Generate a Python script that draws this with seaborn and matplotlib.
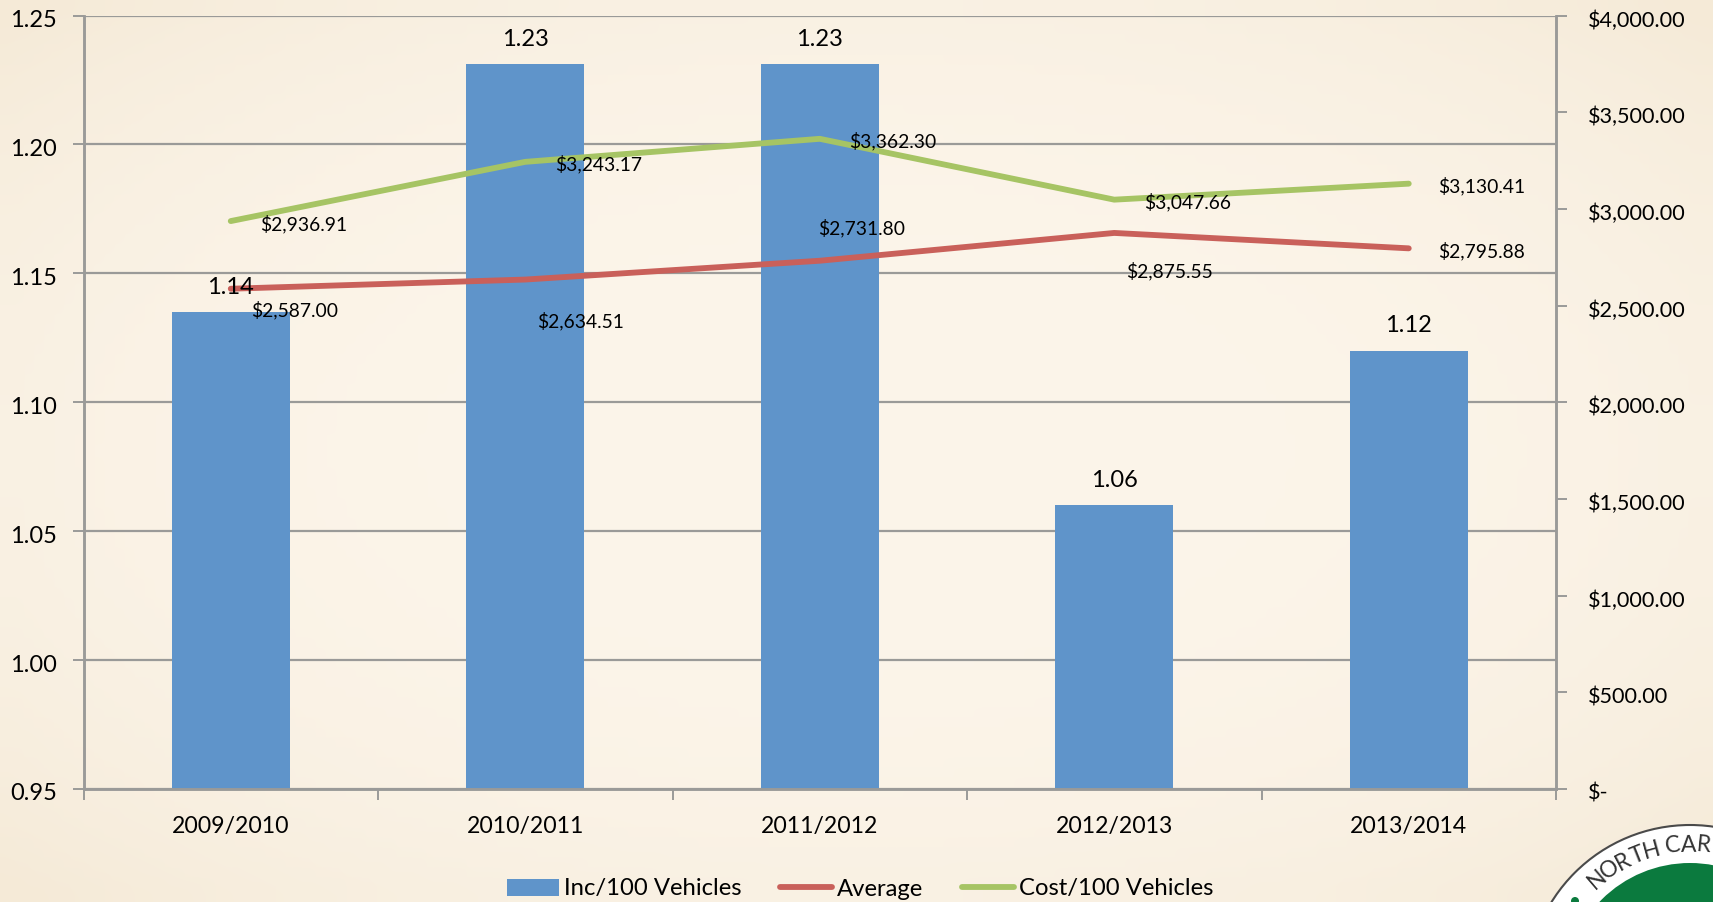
# plot.py - Inc/100 Vehicles bars with Average and Cost/100 Vehicles lines

import numpy as np
import matplotlib
matplotlib.use("Agg")
import matplotlib.pyplot as plt
from matplotlib.lines import Line2D
from matplotlib.patches import Circle, Patch
from matplotlib.ticker import FixedLocator
from matplotlib.transforms import ScaledTranslation
import seaborn as sns

seasons = ["2009/2010", "2010/2011", "2011/2012", "2012/2013", "2013/2014"]
incidents = [1.135, 1.231, 1.231, 1.06, 1.12]
incident_labels = ["1.14", "1.23", "1.23", "1.06", "1.12"]
average_cost = [2587.00, 2634.51, 2731.80, 2875.55, 2795.88]
cost_per_100 = [2936.91, 3243.17, 3362.30, 3047.66, 3130.41]

left_ticks = [0.95, 1.00, 1.05, 1.10, 1.15, 1.20, 1.25]
right_ticks = [0, 500, 1000, 1500, 2000, 2500, 3000, 3500, 4000]
right_tick_labels = ["$-", "$500.00", "$1,000.00", "$1,500.00", "$2,000.00",
                     "$2,500.00", "$3,000.00", "$3,500.00", "$4,000.00"]

# label offsets from each point, in pixels
average_offsets = [(64, -21), (55, -42), (42, 33), (55, -38), (73, -3)]
cost_offsets = [(73, -3), (73, -2), (73, -2), (73, -2), (73, -2)]

# seal lettering: character and its angle from the top of the circle
seal_letters = list("NORTHCAR")
seal_angles = [-40.6, -34.3, -28.0, -21.7, -15.4, -7.0, -0.7, 5.6]

BLUE = "#5f94ca"
RED = "#c9605a"
GREEN = "#a6c464"
GRID = "#9a9a98"
W, H = 1713, 902

sns.set_theme(style="white")
plt.rcParams["font.family"] = ["Lato", "DejaVu Sans"]

fig = plt.figure(figsize=(W / 100, H / 100), dpi=100)
fig.patch.set_facecolor("#f9f2e5")

# paper background, a bit darker towards the edges
yy, xx = np.mgrid[-1:1:90j, -1:1:170j]
shade = np.clip((xx**2 + yy**2) / 2, 0, 1)[..., None] ** 1.5
paper = np.array([252, 245, 234]) * (1 - shade) + np.array([245, 234, 215]) * shade
bg = fig.add_axes([0, 0, 1, 1], zorder=-1)
bg.imshow(paper.astype(np.uint8), aspect="auto", interpolation="bicubic")
bg.axis("off")

ax = fig.add_axes([83.5 / W, 1 - 789 / H, (1556 - 83.5) / W, (789 - 15.5) / H])
ax.patch.set_alpha(0)

positions = np.arange(len(seasons))
sns.barplot(x=seasons, y=incidents, color=BLUE, saturation=1, width=0.4, ax=ax,
            zorder=2, edgecolor="none", linewidth=0)
ax.set_ylim(0.95, 1.25)
ax.set_xlim(-0.5, 4.5)
ax.set_yticks(left_ticks, [f"{t:.2f}" for t in left_ticks])
ax.grid(axis="y", color=GRID, linewidth=1.6, zorder=0)
ax.set_axisbelow(True)
ax.xaxis.set_major_locator(FixedLocator(positions))
ax.set_xticks(positions, seasons)
ax.set_xticks(np.arange(-0.5, 5), minor=True)
ax.tick_params(axis="x", which="major", length=0, pad=19.5, labelsize=16.6, labelcolor="black")
ax.tick_params(axis="x", which="minor", length=8, width=1.4, color=GRID, bottom=True)
ax.tick_params(axis="y", length=8, width=1.4, color=GRID, left=True, pad=11,
               labelsize=17, labelcolor="black")
ax.set_xlabel("")
ax.set_ylabel("")

ax2 = ax.twinx()
sns.lineplot(x=positions, y=average_cost, color=RED, linewidth=4.2, ax=ax2,
             errorbar=None, solid_capstyle="round")
sns.lineplot(x=positions, y=cost_per_100, color=GREEN, linewidth=4.2, ax=ax2,
             errorbar=None, solid_capstyle="round")
ax2.set_ylim(0, 4000)
ax2.set_yticks(right_ticks, right_tick_labels)
ax2.tick_params(axis="y", length=8, width=1.4, color=GRID, right=True, pad=15,
                labelsize=15.6, labelcolor="black")
ax2.set_ylabel("")
ax2.grid(False)

for a in (ax, ax2):
    a.spines["top"].set_visible(False)
    a.spines["right"].set_color(GRID)
    a.spines["left"].set_color(GRID)
    a.spines["bottom"].set_color(GRID)
    for side in ("left", "right", "bottom"):
        a.spines[side].set_linewidth(1.8)

# tick text sits a little under its gridline in the original
nudge = ScaledTranslation(0, -3 / 100, fig.dpi_scale_trans)
for label in ax.get_yticklabels() + ax2.get_yticklabels():
    label.set_transform(label.get_transform() + nudge)

for x, val, text in zip(positions, incidents, incident_labels):
    ax2.annotate(text, xy=(x, val), xycoords=ax.transData, xytext=(0, 25),
                 textcoords="offset pixels", ha="center", va="center",
                 fontsize=17, color="black", zorder=6)

for series, offsets in ((average_cost, average_offsets), (cost_per_100, cost_offsets)):
    for x, val, (dx, dy) in zip(positions, series, offsets):
        ax2.annotate(f"${val:,.2f}", xy=(x, val), xytext=(dx, dy),
                     textcoords="offset pixels", ha="center", va="center",
                     fontsize=13.9, color="black", zorder=6)

handles = [
    Patch(facecolor=BLUE, edgecolor="none", label="Inc/100 Vehicles"),
    Line2D([], [], color=RED, linewidth=4.2, solid_capstyle="round", label="Average"),
    Line2D([], [], color=GREEN, linewidth=4.2, solid_capstyle="round", label="Cost/100 Vehicles"),
]
fig.legend(handles=handles, loc="center", bbox_to_anchor=(860 / W, 1 - 889 / H),
           ncol=3, frameon=False, fontsize=17.2, handlelength=2.18, handleheight=0.7,
           handletextpad=0.2, columnspacing=1.62, labelcolor="black",
           borderpad=0, borderaxespad=0)

# seal in the bottom right corner, cut off by the image edge
seal = fig.add_axes([0, 0, 1, 1], zorder=5)
seal.set_xlim(0, W)
seal.set_ylim(H, 0)
seal.axis("off")
seal.patch.set_alpha(0)
cx, cy = 1690, 988
seal.add_patch(Circle((cx, cy), 163, facecolor="white", edgecolor="#4a4a4a", linewidth=1.5))
seal.add_patch(Circle((cx, cy), 125, facecolor="#0b7a3e", edgecolor="none"))
seal.add_patch(Circle((1575, 901), 4, facecolor="#0b7a3e", edgecolor="none"))
for ch, deg in zip(seal_letters, seal_angles):
    angle = np.radians(deg)
    seal.text(cx + 143 * np.sin(angle), cy - 143 * np.cos(angle), ch,
              rotation=-deg, rotation_mode="anchor", ha="center", va="center",
              fontsize=16.5, color="#333333", clip_on=True)

fig.savefig("out.png", dpi=100, facecolor=fig.get_facecolor())
plt.close(fig)
